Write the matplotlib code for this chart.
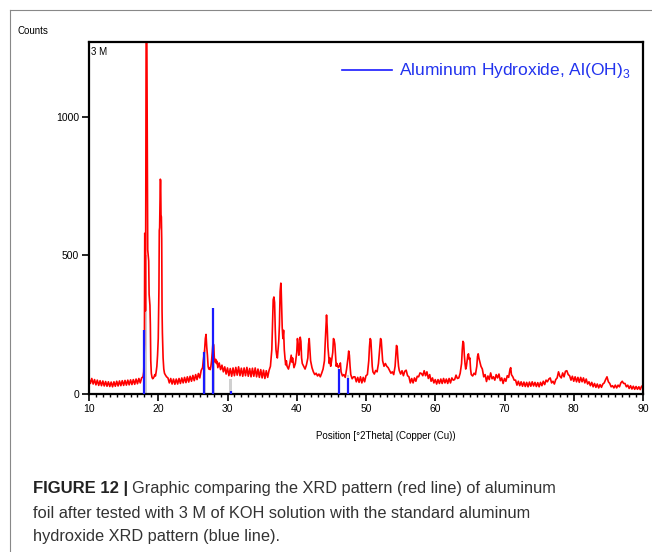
import numpy as np
import matplotlib.pyplot as plt
from matplotlib.lines import Line2D
from matplotlib.ticker import MultipleLocator

plt.rcParams["font.family"] = ["Liberation Sans", "DejaVu Sans"]

# XRD scan of the foil (red line), 2theta in degrees and counts
theta_red = [
    10.0, 10.2, 10.4, 10.6, 10.8, 11.0, 11.2, 11.4, 11.6, 11.8,
    12.0, 12.2, 12.4, 12.6, 12.8, 13.0, 13.2, 13.4, 13.6, 13.8,
    14.0, 14.2, 14.4, 14.6, 14.8, 15.0, 15.2, 15.4, 15.6, 15.8,
    16.0, 16.2, 16.4, 16.6, 16.8, 17.0, 17.2, 17.4, 17.6, 17.8,
    17.9, 18.0, 18.05, 18.1, 18.15, 18.2, 18.25, 18.35, 18.42, 18.48,
    18.55, 18.62, 18.68, 18.74, 18.8, 18.86, 18.92, 19.0, 19.1, 19.2,
    19.3, 19.4, 19.5, 19.6, 19.7, 19.8, 19.9, 20.0, 20.1, 20.15,
    20.2, 20.25, 20.3, 20.35, 20.4, 20.45, 20.5, 20.55, 20.6, 20.7,
    20.8, 20.9, 21.0, 21.2, 21.4, 21.6, 21.8, 22.0, 22.2, 22.4,
    22.6, 22.8, 23.0, 23.2, 23.4, 23.6, 23.8, 24.0, 24.2, 24.4,
    24.6, 24.8, 25.0, 25.2, 25.4, 25.6, 25.8, 26.0, 26.2, 26.4,
    26.5, 26.6, 26.7, 26.8, 26.9, 27.0, 27.1, 27.2, 27.3, 27.4,
    27.5, 27.6, 27.7, 27.8, 27.9, 28.0, 28.1, 28.2, 28.3, 28.4,
    28.5, 28.6, 28.8, 29.0, 29.2, 29.4, 29.6, 29.8, 30.0, 30.2,
    30.4, 30.6, 30.8, 31.0, 31.2, 31.4, 31.6, 31.8, 32.0, 32.2,
    32.4, 32.6, 32.8, 33.0, 33.2, 33.4, 33.6, 33.8, 34.0, 34.2,
    34.4, 34.6, 34.8, 35.0, 35.2, 35.4, 35.6, 35.8, 36.0, 36.2,
    36.4, 36.5, 36.6, 36.7, 36.8, 36.9, 37.0, 37.1, 37.2, 37.3,
    37.4, 37.5, 37.6, 37.7, 37.75, 37.8, 37.9, 38.0, 38.1, 38.2,
    38.3, 38.4, 38.5, 38.6, 38.8, 39.0, 39.2, 39.3, 39.4, 39.6,
    39.8, 40.0, 40.1, 40.2, 40.3, 40.4, 40.5, 40.6, 40.7, 40.8,
    41.0, 41.2, 41.4, 41.6, 41.7, 41.8, 41.9, 42.0, 42.2, 42.4,
    42.6, 42.8, 43.0, 43.2, 43.4, 43.6, 43.8, 44.0, 44.1, 44.2,
    44.3, 44.4, 44.5, 44.6, 44.7, 44.8, 44.9, 45.0, 45.2, 45.3,
    45.4, 45.5, 45.6, 45.7, 45.8, 46.0, 46.2, 46.3, 46.4, 46.6,
    46.8, 47.0, 47.2, 47.4, 47.5, 47.6, 47.7, 47.8, 48.0, 48.2,
    48.4, 48.6, 48.8, 49.0, 49.2, 49.4, 49.6, 49.8, 50.0, 50.2,
    50.4, 50.5, 50.6, 50.7, 50.8, 50.9, 51.0, 51.2, 51.4, 51.6,
    51.8, 52.0, 52.1, 52.2, 52.3, 52.4, 52.6, 52.8, 53.0, 53.2,
    53.4, 53.6, 53.8, 54.0, 54.2, 54.3, 54.4, 54.5, 54.6, 54.7,
    54.8, 55.0, 55.2, 55.4, 55.6, 55.8, 56.0, 56.2, 56.4, 56.6,
    56.8, 57.0, 57.2, 57.4, 57.6, 57.8, 58.0, 58.2, 58.4, 58.6,
    58.8, 59.0, 59.2, 59.4, 59.6, 59.8, 60.0, 60.2, 60.4, 60.6,
    60.8, 61.0, 61.2, 61.4, 61.6, 61.8, 62.0, 62.2, 62.4, 62.6,
    62.8, 63.0, 63.2, 63.4, 63.6, 63.8, 63.9, 64.0, 64.1, 64.2,
    64.3, 64.4, 64.5, 64.6, 64.7, 64.8, 64.9, 65.0, 65.1, 65.2,
    65.4, 65.6, 65.8, 66.0, 66.1, 66.2, 66.3, 66.4, 66.5, 66.6,
    66.8, 67.0, 67.2, 67.4, 67.6, 67.8, 68.0, 68.2, 68.4, 68.6,
    68.8, 69.0, 69.2, 69.4, 69.6, 69.8, 70.0, 70.2, 70.4, 70.6,
    70.8, 70.9, 71.0, 71.2, 71.4, 71.6, 71.8, 72.0, 72.2, 72.4,
    72.6, 72.8, 73.0, 73.2, 73.4, 73.6, 73.8, 74.0, 74.2, 74.4,
    74.6, 74.8, 75.0, 75.2, 75.4, 75.6, 75.8, 76.0, 76.2, 76.4,
    76.6, 76.8, 77.0, 77.2, 77.4, 77.6, 77.8, 78.0, 78.2, 78.4,
    78.6, 78.8, 79.0, 79.2, 79.4, 79.6, 79.8, 80.0, 80.2, 80.4,
    80.6, 80.8, 81.0, 81.2, 81.4, 81.6, 81.8, 82.0, 82.2, 82.4,
    82.6, 82.8, 83.0, 83.2, 83.4, 83.6, 83.8, 84.0, 84.2, 84.4,
    84.6, 84.8, 85.0, 85.2, 85.4, 85.6, 85.8, 86.0, 86.2, 86.4,
    86.6, 86.8, 87.0, 87.2, 87.4, 87.6, 87.8, 88.0, 88.2, 88.4,
    88.6, 88.8, 89.0, 89.2, 89.4, 89.6, 89.8, 90.0,
]
counts_red = [
    55, 38, 56, 36, 52, 33, 50, 31, 48, 30,
    47, 29, 45, 28, 44, 27, 43, 26, 44, 28,
    46, 29, 47, 30, 48, 31, 49, 32, 50, 33,
    51, 34, 52, 35, 54, 37, 56, 40, 58, 62,
    80, 180, 580, 560, 300, 700, 1300, 1300, 900, 520,
    500, 480, 360, 340, 320, 250, 120, 75, 60, 55,
    58, 62, 70, 65, 80, 100, 140, 200, 380, 590,
    600, 700, 775, 770, 640, 640, 560, 300, 220, 130,
    90, 75, 70, 62, 58, 40, 56, 36, 54, 35,
    54, 36, 56, 38, 58, 40, 60, 41, 62, 43,
    64, 46, 67, 48, 70, 52, 74, 58, 85, 95,
    120, 140, 160, 200, 215, 170, 140, 100, 90, 95,
    88, 100, 120, 150, 185, 175, 130, 115, 125, 110,
    118, 95, 112, 88, 104, 80, 98, 72, 94, 66,
    92, 64, 94, 66, 96, 68, 98, 66, 93, 64,
    94, 66, 96, 64, 92, 62, 93, 64, 94, 62,
    90, 60, 88, 58, 86, 56, 84, 60, 85, 100,
    160, 250, 340, 350, 330, 230, 160, 140, 130, 160,
    190, 250, 370, 400, 380, 330, 240, 200, 230, 160,
    130, 105, 120, 100, 90, 110, 140, 115, 130, 95,
    110, 150, 200, 180, 140, 160, 205, 190, 130, 110,
    100, 90, 105, 130, 180, 200, 160, 120, 95, 80,
    70, 75, 65, 72, 62, 75, 90, 120, 180, 230,
    285, 240, 170, 140, 110, 130, 100, 115, 150, 200,
    195, 180, 140, 100, 110, 95, 105, 112, 80, 65,
    70, 60, 90, 130, 155, 140, 100, 70, 55, 62,
    62, 44, 60, 42, 62, 40, 60, 44, 66, 70,
    120, 170, 200, 195, 150, 100, 80, 72, 85, 80,
    110, 170, 200, 195, 160, 120, 100, 110, 100, 95,
    85, 75, 80, 70, 100, 140, 175, 170, 130, 100,
    85, 72, 84, 66, 82, 86, 66, 62, 40, 56,
    40, 58, 46, 64, 62, 76, 74, 66, 84, 66,
    80, 56, 70, 46, 58, 40, 52, 36, 52, 38,
    54, 38, 56, 40, 54, 38, 56, 40, 58, 50,
    52, 68, 56, 58, 75, 110, 160, 190, 185, 140,
    110, 90, 100, 120, 140, 145, 125, 130, 90, 70,
    65, 75, 70, 100, 135, 145, 130, 120, 110, 100,
    90, 62, 70, 45, 65, 52, 76, 55, 62, 50,
    70, 58, 72, 48, 58, 38, 56, 46, 66, 60,
    90, 95, 70, 62, 50, 50, 32, 46, 30, 44,
    28, 43, 27, 42, 26, 43, 28, 44, 29, 42,
    27, 41, 26, 42, 30, 46, 34, 50, 44, 54,
    58, 40, 46, 36, 52, 58, 80, 64, 58, 76,
    62, 82, 84, 70, 66, 50, 64, 46, 62, 44,
    60, 42, 60, 44, 58, 40, 54, 36, 44, 30,
    42, 26, 38, 24, 36, 22, 34, 24, 36, 40,
    52, 62, 44, 38, 26, 30, 22, 32, 22, 32,
    26, 40, 46, 38, 38, 26, 32, 20, 30, 18,
    28, 17, 27, 17, 26, 16, 28, 30,
]

# reference pattern of aluminum hydroxide (blue sticks)
theta_ref = [18.0, 26.65, 27.95, 30.45, 46.15, 47.35]
counts_ref = [230, 153, 309, 12, 89, 57]

# light grey bands behind the reference sticks
theta_band = [18.2, 26.75, 28.0, 30.45, 46.1, 47.4]
counts_band = [500, 160, 180, 55, 90, 70]

fig = plt.figure(figsize=(6.52, 5.52), dpi=100)
ax = fig.add_axes([89 / 652, 1 - 394 / 552, 554 / 652, 352 / 552])

ax.bar(theta_band, counts_band, width=0.35, color="#d0d0d0", zorder=1)
ax.plot(theta_red, counts_red, color="#ff0000", lw=1.2, zorder=2)
ax.vlines(theta_ref, 0, counts_ref, color="#1a1aff", lw=1.6, zorder=3)

ax.set_xlim(10, 90)
ax.set_ylim(0, 1270)
ax.xaxis.set_major_locator(MultipleLocator(10))
ax.xaxis.set_minor_locator(MultipleLocator(1))
ax.set_yticks([0, 500, 1000])
ax.tick_params(axis="both", which="major", direction="out", length=5, width=1.2,
               labelsize=7.5, pad=2, colors="black")
ax.tick_params(axis="x", which="minor", direction="out", length=2.5, width=1.0)
for s in ax.spines.values():
    s.set_linewidth(1.6)

ax.text(0.003, 0.985, "3 M", transform=ax.transAxes, fontsize=7, va="top", ha="left")
fig.text(18 / 652, 1 - 31 / 552, "Counts", fontsize=7, va="center", ha="left")
fig.text(316 / 652, 1 - 436 / 552, "Position [°2Theta] (Copper (Cu))", fontsize=7,
         va="center", ha="left")

# legend drawn by hand
fig.add_artist(Line2D([342 / 652, 392 / 652], [1 - 70 / 552] * 2, color="#1a1aff", lw=1.2))
fig.text(399 / 652, 1 - 70 / 552, r"Aluminum Hydroxide, Al(OH)$_\mathregular{3}$",
         fontsize=12.5, color="#2233ee", va="center", ha="left")

# figure frame (top and left)
fig.add_artist(Line2D([10 / 652, 1], [1 - 10 / 552] * 2, color="#888888", lw=0.8))
fig.add_artist(Line2D([10 / 652] * 2, [0, 1 - 10 / 552], color="#888888", lw=0.8))

# caption
cap_font = ["Liberation Sans Narrow", "Liberation Sans", "DejaVu Sans"]
bold = fig.text(33 / 652, 1 - 489 / 552, "FIGURE 12 |", fontsize=12, fontweight="bold",
                family=cap_font, va="center", ha="left", color="#222222")
fig.canvas.draw()
bb = bold.get_window_extent(fig.canvas.get_renderer())
fig.text((bb.x1 + 4) / 652, 1 - 489 / 552,
         "Graphic comparing the XRD pattern (red line) of aluminum",
         fontsize=11.8, family=cap_font, va="center", ha="left", color="#333333")
fig.text(33 / 652, 1 - 513 / 552,
         "foil after tested with 3 M of KOH solution with the standard aluminum",
         fontsize=11.8, family=cap_font, va="center", ha="left", color="#333333")
fig.text(33 / 652, 1 - 537 / 552, "hydroxide XRD pattern (blue line).",
         fontsize=11.8, family=cap_font, va="center", ha="left", color="#333333")

fig.savefig("out.png", dpi=100)
